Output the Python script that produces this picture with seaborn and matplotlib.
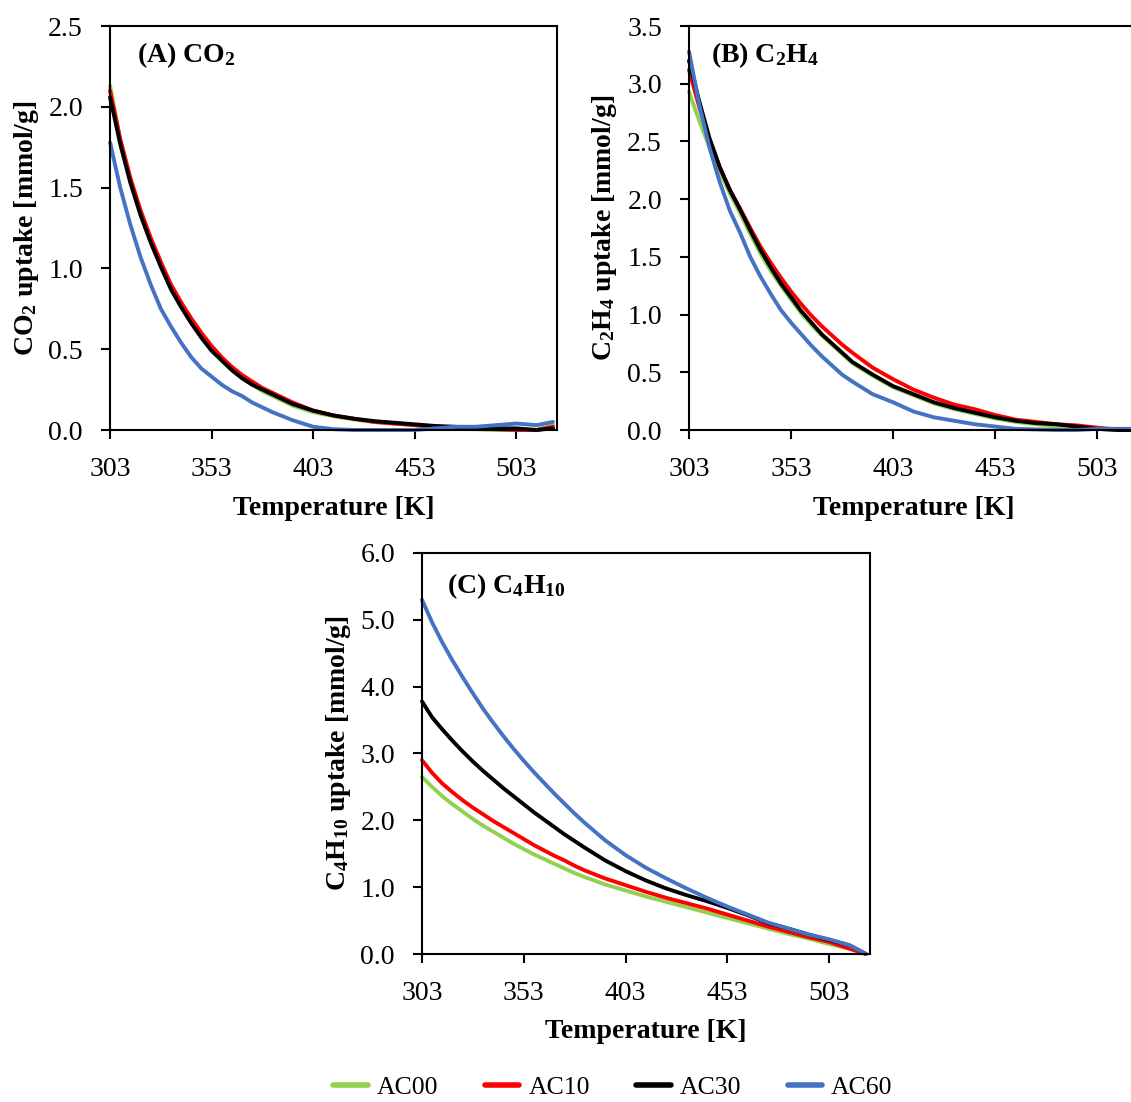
import matplotlib
matplotlib.use("Agg")
import matplotlib.pyplot as plt
import seaborn as sns
import pandas as pd
from matplotlib.lines import Line2D
from matplotlib.ticker import FormatStrFormatter

temps = [303, 308, 313, 318, 323, 328, 333, 338, 343, 348, 353, 358, 363, 368, 373, 378,
         383, 393, 403, 413, 423, 433, 443, 453, 463, 473, 483, 493, 503, 513, 521]

samples = ["AC00", "AC10", "AC30", "AC60"]
colors = ["#92D050", "#FF0000", "#000000", "#4472C4"]

# (A) CO2 uptake [mmol/g]
co2_ac00 = [2.13, 1.80, 1.55, 1.35, 1.17, 1.02, 0.88, 0.77, 0.67, 0.58, 0.50, 0.43, 0.37, 0.32,
            0.28, 0.24, 0.21, 0.15, 0.11, 0.085, 0.065, 0.05, 0.04, 0.03, 0.02, 0.01, 0.005,
            0.0, 0.0, 0.0, 0.03]
co2_ac10 = [2.10, 1.80, 1.56, 1.36, 1.19, 1.04, 0.90, 0.79, 0.69, 0.60, 0.52, 0.45, 0.39, 0.34,
            0.30, 0.26, 0.23, 0.17, 0.12, 0.09, 0.07, 0.05, 0.04, 0.03, 0.02, 0.015, 0.01,
            0.005, 0.0, 0.0, 0.02]
co2_ac30 = [2.06, 1.77, 1.53, 1.33, 1.16, 1.01, 0.87, 0.76, 0.66, 0.57, 0.49, 0.43, 0.37, 0.32,
            0.28, 0.25, 0.22, 0.16, 0.12, 0.09, 0.07, 0.055, 0.045, 0.035, 0.025, 0.02, 0.01,
            0.01, 0.01, 0.0, 0.01]
co2_ac60 = [1.78, 1.50, 1.27, 1.07, 0.90, 0.75, 0.64, 0.54, 0.45, 0.38, 0.33, 0.28, 0.24, 0.21,
            0.17, 0.14, 0.11, 0.06, 0.02, 0.005, 0.0, 0.0, 0.0, 0.0, 0.01, 0.02, 0.02,
            0.03, 0.04, 0.03, 0.05]

# (B) C2H4 uptake [mmol/g]
c2h4_ac00 = [2.93, 2.68, 2.45, 2.24, 2.05, 1.88, 1.70, 1.53, 1.38, 1.25, 1.13, 1.01, 0.91, 0.82,
             0.74, 0.66, 0.58, 0.47, 0.37, 0.30, 0.23, 0.18, 0.14, 0.10, 0.07, 0.05, 0.03,
             0.02, 0.01, 0.0, 0.0]
c2h4_ac10 = [3.12, 2.80, 2.52, 2.28, 2.08, 1.92, 1.75, 1.59, 1.45, 1.32, 1.20, 1.09, 0.99, 0.90,
             0.82, 0.74, 0.67, 0.54, 0.44, 0.35, 0.28, 0.22, 0.18, 0.13, 0.09, 0.07, 0.05,
             0.04, 0.02, 0.005, 0.0]
c2h4_ac30 = [3.20, 2.85, 2.53, 2.28, 2.08, 1.91, 1.73, 1.56, 1.41, 1.27, 1.15, 1.03, 0.93, 0.83,
             0.75, 0.67, 0.59, 0.48, 0.38, 0.31, 0.24, 0.19, 0.15, 0.11, 0.08, 0.06, 0.05,
             0.03, 0.01, 0.0, 0.0]
c2h4_ac60 = [3.28, 2.82, 2.45, 2.15, 1.90, 1.71, 1.50, 1.33, 1.18, 1.04, 0.93, 0.83, 0.73, 0.64,
             0.56, 0.48, 0.42, 0.31, 0.24, 0.16, 0.11, 0.08, 0.05, 0.03, 0.01, 0.005, 0.0,
             0.0, 0.01, 0.01, 0.01]

# (C) C4H10 uptake [mmol/g]
c4h10_ac00 = [2.65, 2.50, 2.36, 2.24, 2.13, 2.02, 1.92, 1.83, 1.74, 1.65, 1.57, 1.49, 1.42, 1.35,
              1.28, 1.21, 1.15, 1.04, 0.95, 0.86, 0.78, 0.70, 0.62, 0.54, 0.46, 0.38, 0.30,
              0.23, 0.15, 0.08, 0.0]
c4h10_ac10 = [2.90, 2.71, 2.55, 2.42, 2.30, 2.19, 2.09, 1.99, 1.90, 1.81, 1.72, 1.63, 1.55, 1.47,
              1.40, 1.32, 1.25, 1.13, 1.03, 0.93, 0.84, 0.76, 0.68, 0.59, 0.50, 0.41, 0.33,
              0.25, 0.18, 0.08, 0.0]
c4h10_ac30 = [3.78, 3.54, 3.36, 3.19, 3.03, 2.88, 2.74, 2.61, 2.48, 2.36, 2.24, 2.12, 2.01, 1.90,
              1.79, 1.69, 1.59, 1.40, 1.24, 1.10, 0.98, 0.88, 0.79, 0.69, 0.58, 0.46, 0.38,
              0.29, 0.21, 0.13, 0.0]
c4h10_ac60 = [5.30, 4.96, 4.66, 4.39, 4.14, 3.90, 3.67, 3.46, 3.26, 3.07, 2.89, 2.72, 2.56, 2.40,
              2.25, 2.10, 1.96, 1.70, 1.48, 1.29, 1.13, 0.98, 0.84, 0.71, 0.59, 0.47, 0.38,
              0.29, 0.22, 0.13, 0.0]


def long_df(series):
    rows = []
    for name, vals in zip(samples, series):
        assert len(vals) == len(temps), name
        for t, v in zip(temps, vals):
            rows.append((name, t, v))
    return pd.DataFrame(rows, columns=["sample", "T", "uptake"])


sns.set_style("ticks")
plt.rcParams["font.family"] = ["Liberation Serif", "DejaVu Serif"]
plt.rcParams["mathtext.fontset"] = "custom"
plt.rcParams["mathtext.rm"] = "Liberation Serif"
plt.rcParams["mathtext.it"] = "Liberation Serif:italic"
plt.rcParams["mathtext.bf"] = "Liberation Serif:bold"
plt.rcParams["text.color"] = "black"
plt.rcParams["axes.labelcolor"] = "black"

palette = dict(zip(samples, colors))
FS = 20


def panel(ax, df, yticks, title, title_x, title_y, ylabel):
    sns.lineplot(data=df, x="T", y="uptake", hue="sample", hue_order=samples,
                 palette=palette, estimator=None, linewidth=2.8, legend=False, ax=ax)
    for line in ax.lines:
        line.set_clip_on(False)
    ax.set_xlim(303, 523)
    ax.set_ylim(yticks[0], yticks[-1])
    ax.set_xticks([303, 353, 403, 453, 503])
    ax.set_yticks(yticks)
    ax.yaxis.set_major_formatter(FormatStrFormatter("%.1f"))
    ax.tick_params(length=6.5, width=1.5, pad=13, labelsize=FS, colors="black",
                   top=False, right=False, direction="out")
    ax.set_xlabel("Temperature [K]", fontsize=FS, fontweight="bold", color="black")
    ax.set_ylabel(ylabel, fontsize=FS, fontweight="bold", color="black")
    ax.xaxis.set_label_coords(0.5, -0.163)
    ax.yaxis.set_label_coords(-0.155, 0.5)
    ax.text(title_x, title_y, title, transform=ax.transAxes, fontsize=FS,
            fontweight="bold", ha="left", va="top", color="black")
    for s in ax.spines.values():
        s.set_linewidth(1.5)
        s.set_color("black")


fig = plt.figure(figsize=(11.31, 11.02), dpi=100)
ax_a = fig.add_axes([0.0973, 0.6098, 0.3952, 0.3666])
ax_b = fig.add_axes([0.6092, 0.6098, 0.3970, 0.3666])
ax_c = fig.add_axes([0.3731, 0.1343, 0.3960, 0.3639])

panel(ax_a, long_df([co2_ac00, co2_ac10, co2_ac30, co2_ac60]),
      [0, 0.5, 1.0, 1.5, 2.0, 2.5], r"(A) CO$_\mathbf{2}$", 0.06, 0.965,
      r"CO$_\mathbf{2}$ uptake [mmol/g]")
panel(ax_b, long_df([c2h4_ac00, c2h4_ac10, c2h4_ac30, c2h4_ac60]),
      [0, 0.5, 1.0, 1.5, 2.0, 2.5, 3.0, 3.5], r"(B) C$_\mathbf{2}$H$_\mathbf{4}$", 0.05, 0.965,
      r"C$_\mathbf{2}$H$_\mathbf{4}$ uptake [mmol/g]")
panel(ax_c, long_df([c4h10_ac00, c4h10_ac10, c4h10_ac30, c4h10_ac60]),
      [0, 1, 2, 3, 4, 5, 6], r"(C) C$_\mathbf{4}$H$_\mathbf{10}$", 0.056, 0.955,
      r"C$_\mathbf{4}$H$_\mathbf{10}$ uptake [mmol/g]")

handles = [Line2D([], [], color=c, linewidth=4) for c in colors]
fig.legend(handles, samples, loc="center", bbox_to_anchor=(0.542, 0.013), ncol=4,
           frameon=False, fontsize=18.5, handlelength=1.35, handletextpad=0.35,
           columnspacing=1.8)

fig.savefig("out.png", dpi=100)
